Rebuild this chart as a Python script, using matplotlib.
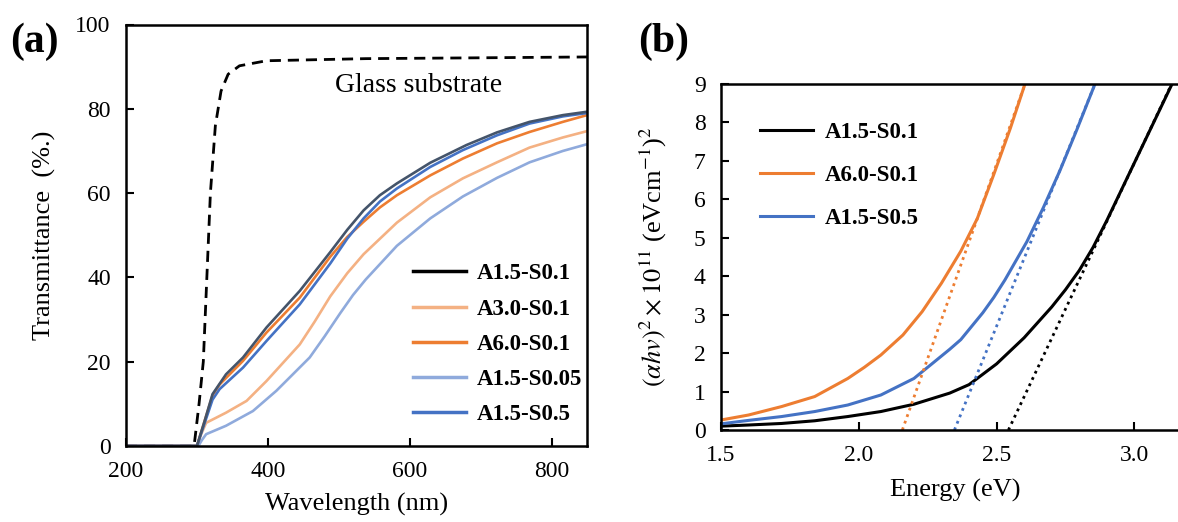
import matplotlib
matplotlib.use("Agg")
import matplotlib.pyplot as plt

plt.rcParams['font.family'] = ['Liberation Serif', 'DejaVu Serif']
plt.rcParams['mathtext.fontset'] = 'stix'

# (a) transmittance spectra
wl_glass = [200, 296, 303, 309, 314, 319, 326, 334, 344, 360, 398, 538, 700, 850]
t_glass = [0, 0, 10, 20, 40, 60, 76, 84.2, 88.2, 90.2, 91.4, 91.9, 92.1, 92.3]

wl_dark = [200, 300, 311, 322, 341, 365, 398, 445, 488, 512, 535, 558, 582, 629, 680, 723, 769, 816, 850]
t_a15_s01 = [0, 0, 6, 12.3, 17, 21, 28.1, 36.8, 46, 51.3, 55.9, 59.5, 62.3, 67.2, 71.4, 74.4, 76.9, 78.5, 79.3]

wl_orange = [200, 300, 311, 322, 332, 365, 398, 445, 488, 512, 535, 558, 582, 629, 675, 723, 769, 816, 850]
t_a60_s01 = [0, 0, 6, 12, 14.6, 20.2, 26.9, 35.2, 44.9, 49.6, 53.2, 56.6, 59.5, 64.2, 68.2, 71.8, 74.5, 76.9, 78.5]

wl_blue = [200, 300, 311, 322, 332, 365, 398, 445, 488, 512, 535, 558, 582, 629, 675, 723, 769, 816, 850]
t_a15_s05 = [0, 0, 5.5, 11, 13.5, 18.6, 24.9, 33.6, 43.3, 49.2, 54, 58, 61.1, 66.2, 70.2, 73.7, 76.5, 78.2, 79]

wl_lorange = [200, 300, 306, 313, 341, 370, 398, 445, 466, 488, 512, 535, 582, 629, 675, 723, 769, 816, 850]
t_a30_s01 = [0, 0, 2.8, 5.5, 7.9, 10.7, 15.4, 24.1, 29.5, 35.5, 41, 45.5, 53, 59, 63.5, 67.3, 70.8, 73.2, 74.7]

wl_lblue = [200, 302, 307, 313, 341, 379, 412, 459, 480, 502, 520, 538, 582, 629, 675, 723, 769, 816, 850]
t_a15_s005 = [0, 0, 1.4, 2.8, 4.8, 8.3, 13.1, 21, 26, 31.5, 35.8, 39.5, 47.5, 54, 59.2, 63.6, 67.3, 70, 71.6]

# (b) Tauc plots
e_black = [1.5, 1.6, 1.72, 1.84, 1.96, 2.08, 2.2, 2.33, 2.4, 2.5, 2.6, 2.7, 2.75, 2.8, 2.85, 2.9, 2.95, 3.0, 3.05, 3.1, 3.14, 3.2]
tauc_a15_s01 = [0.1, 0.13, 0.17, 0.24, 0.35, 0.48, 0.67, 0.96, 1.18, 1.72, 2.4, 3.2, 3.65, 4.15, 4.75, 5.45, 6.2, 6.95, 7.7, 8.45, 9.05, 9.95]
e_orange = [1.5, 1.6, 1.72, 1.84, 1.96, 2.02, 2.08, 2.16, 2.23, 2.3, 2.37, 2.43, 2.49, 2.55, 2.603]
tauc_a60_s01 = [0.26, 0.39, 0.61, 0.87, 1.34, 1.63, 1.95, 2.47, 3.08, 3.82, 4.65, 5.5, 6.65, 7.85, 9.0]
e_blue = [1.5, 1.6, 1.72, 1.84, 1.96, 2.08, 2.2, 2.26, 2.33, 2.37, 2.45, 2.49, 2.53, 2.61, 2.67, 2.73, 2.79, 2.857]
tauc_a15_s05 = [0.16, 0.25, 0.35, 0.48, 0.65, 0.91, 1.34, 1.69, 2.1, 2.35, 3.05, 3.45, 3.9, 4.9, 5.79, 6.75, 7.79, 9.0]
fit_a15_s01 = ([2.543, 3.135], [0, 9])
fit_a60_s01 = ([2.158, 2.603], [0, 9])
fit_a15_s05 = ([2.347, 2.857], [0, 9])

black = '#000000'
slate = '#44546A'
orange = '#ED7D31'
lorange = '#F4B183'
blue = '#4472C4'
lblue = '#8FAADC'

fig = plt.figure(figsize=(11.78, 5.22), dpi=100)
ax1 = fig.add_axes([126/1178, 76/522, 461/1178, 421.5/522])
ax2 = fig.add_axes([721/1178, 92/522, 468.5/1178, 346/522])

lw = 1.9
ax1.plot(wl_glass, t_glass, color=black, lw=2, dashes=(4, 2.5))
ax1.plot(wl_lorange, t_a30_s01, color=lorange, lw=lw)
ax1.plot(wl_lblue, t_a15_s005, color=lblue, lw=lw)
ax1.plot(wl_orange, t_a60_s01, color=orange, lw=lw)
ax1.plot(wl_blue, t_a15_s05, color=blue, lw=lw)
ax1.plot(wl_dark, t_a15_s01, color=slate, lw=lw)
ax1.set_xlim(200, 850)
ax1.set_ylim(0, 100)
ax1.set_xticks([200, 400, 600, 800])
ax1.set_yticks([0, 20, 40, 60, 80, 100])
ax1.set_xlabel('Wavelength (nm)', fontsize=19, labelpad=8)
ax1.set_ylabel('Transmittance  (%.)', fontsize=19, labelpad=14)
ax1.text(495, 85.6, 'Glass substrate', fontsize=20, va='center')

handles = [plt.Line2D([], [], color=c, lw=2.5) for c in [black, lorange, orange, lblue, blue]]
ax1.legend(handles, ['A1.5-S0.1', 'A3.0-S0.1', 'A6.0-S0.1', 'A1.5-S0.05', 'A1.5-S0.5'],
           loc='lower right', bbox_to_anchor=(1.035, 0.0), frameon=False,
           prop={'weight': 'bold', 'size': 16.5}, handlelength=2.3, handletextpad=0.5,
           labelspacing=0.62)

ax2.plot(e_black, tauc_a15_s01, color=black, lw=2.2)
ax2.plot(e_orange, tauc_a60_s01, color=orange, lw=2.2)
ax2.plot(e_blue, tauc_a15_s05, color=blue, lw=2.2)
ax2.plot(*fit_a15_s01, color=black, lw=2, ls=(0, (1, 1.5)))
ax2.plot(*fit_a60_s01, color=orange, lw=2, ls=(0, (1, 1.5)))
ax2.plot(*fit_a15_s05, color=blue, lw=2, ls=(0, (1, 1.5)))
ax2.set_xlim(1.5, 3.2)
ax2.set_ylim(0, 9)
ax2.set_xticks([1.5, 2.0, 2.5, 3.0])
ax2.set_xticklabels(['1.5', '2.0', '2.5', '3.0'])
ax2.set_yticks(range(10))
ax2.set_xlabel('Energy (eV)', fontsize=19, labelpad=9)
ax2.set_ylabel(r'$(\alpha hv)^2\times10^{11}$ (eVcm$^{-1}$)$^2$', fontsize=19, labelpad=18)
ax2.legend(['A1.5-S0.1', 'A6.0-S0.1', 'A1.5-S0.5'], loc='upper left', bbox_to_anchor=(0.04, 0.95),
           frameon=False, prop={'weight': 'bold', 'size': 16.5}, handlelength=2.3,
           handletextpad=0.5, labelspacing=0.95)

for ax in (ax1, ax2):
    ax.tick_params(direction='in', length=6, width=1.5, labelsize=17, pad=11)
    for s in ax.spines.values():
        s.set_linewidth(1.8)

fig.text(10/1178, 1 - 42/522, '(a)', fontsize=30, fontweight='bold', va='center')
fig.text(638/1178, 1 - 42/522, '(b)', fontsize=30, fontweight='bold', va='center')

fig.savefig('out.png', dpi=100)
